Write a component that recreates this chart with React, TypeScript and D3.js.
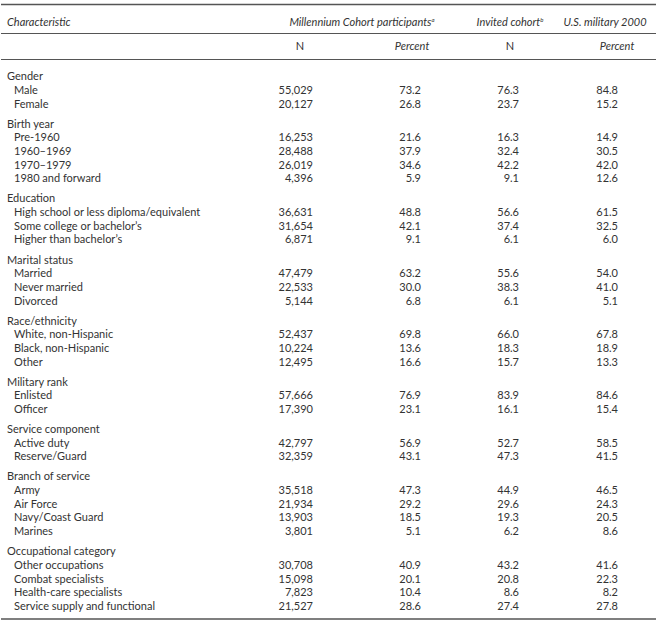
import * as d3 from "d3";

// table content
const groups = [
  "Gender",
  "Birth year",
  "Education",
  "Marital status",
  "Race/ethnicity",
  "Military rank",
  "Service component",
  "Branch of service",
  "Occupational category",
];

const itemLabels = [
  ["Male", "Female"],
  ["Pre-1960", "1960–1969", "1970–1979", "1980 and forward"],
  ["High school or less diploma/equivalent", "Some college or bachelor’s", "Higher than bachelor’s"],
  ["Married", "Never married", "Divorced"],
  ["White, non-Hispanic", "Black, non-Hispanic", "Other"],
  ["Enlisted", "Officer"],
  ["Active duty", "Reserve/Guard"],
  ["Army", "Air Force", "Navy/Coast Guard", "Marines"],
  ["Other occupations", "Combat specialists", "Health-care specialists", "Service supply and functional"],
];

const participantsN = [
  [55029, 20127],
  [16253, 28488, 26019, 4396],
  [36631, 31654, 6871],
  [47479, 22533, 5144],
  [52437, 10224, 12495],
  [57666, 17390],
  [42797, 32359],
  [35518, 21934, 13903, 3801],
  [30708, 15098, 7823, 21527],
];

const participantsPct = [
  [73.2, 26.8],
  [21.6, 37.9, 34.6, 5.9],
  [48.8, 42.1, 9.1],
  [63.2, 30.0, 6.8],
  [69.8, 13.6, 16.6],
  [76.9, 23.1],
  [56.9, 43.1],
  [47.3, 29.2, 18.5, 5.1],
  [40.9, 20.1, 10.4, 28.6],
];

const invitedPct = [
  [76.3, 23.7],
  [16.3, 32.4, 42.2, 9.1],
  [56.6, 37.4, 6.1],
  [55.6, 38.3, 6.1],
  [66.0, 18.3, 15.7],
  [83.9, 16.1],
  [52.7, 47.3],
  [44.9, 29.6, 19.3, 6.2],
  [43.2, 20.8, 8.6, 27.4],
];

const militaryPct = [
  [84.8, 15.2],
  [14.9, 30.5, 42.0, 12.6],
  [61.5, 32.5, 6.0],
  [54.0, 41.0, 5.1],
  [67.8, 18.9, 13.3],
  [84.6, 15.4],
  [58.5, 41.5],
  [46.5, 24.3, 20.5, 8.6],
  [41.6, 22.3, 8.2, 27.8],
];

const W = 665;
const H = 623;
const FONT = "Lato, 'Open Sans', sans-serif";
const TEXT = "#333";
const RULE = "#555";
const GAP = 0.47; // extra space before each group, in rows

const fmtN = d3.format(",");
const fmtPct = d3.format(".1f");

type Row = { pos: number; label: string; header: boolean; vals?: string[] };

// build rows with a running position
const rows: Row[] = [];
let p = 0;
groups.forEach((g, gi) => {
  if (gi > 0) p += GAP;
  rows.push({ pos: p, label: g, header: true });
  p += 1;
  itemLabels[gi].forEach((lab, i) => {
    rows.push({
      pos: p,
      label: lab,
      header: false,
      vals: [
        fmtN(participantsN[gi][i]),
        fmtPct(participantsPct[gi][i]),
        fmtPct(invitedPct[gi][i]),
        fmtPct(militaryPct[gi][i]),
      ],
    });
    p += 1;
  });
});
const lastPos = rows[rows.length - 1].pos;

const y = d3.scaleLinear().domain([0, lastPos]).range([76.5, 606]);
// right edges of the four number columns
const colRight = [313, 421, 519, 618];

export default function App() {
  return (
    <svg width={W} height={H} style={{ position: "absolute", left: 0, top: 0 }}>
      <rect width={W} height={H} fill="#fff" />
      <g fontFamily={FONT} fontSize={11} fill={TEXT}>
        {/* rules */}
        {[4.5, 33.5, 59.5, 619].map((ry) => (
          <line key={ry} x1={1} x2={656} y1={ry} y2={ry} stroke={RULE} strokeWidth={ry === 4.5 || ry === 619 ? 1.6 : 1.2} />
        ))}

        {/* header */}
        <g fontStyle="italic">
          <text x={7} y={22.5} dy="0.35em">Characteristic</text>
          <text x={362} y={22.5} dy="0.35em" textAnchor="middle">
            Millennium Cohort participants
            <tspan fontSize={6} dy="-4">a</tspan>
          </text>
          <text x={510} y={22.5} dy="0.35em" textAnchor="middle">
            Invited cohort
            <tspan fontSize={6} dy="-4">b</tspan>
          </text>
          <text x={605} y={22.5} dy="0.35em" textAnchor="middle">U.S. military 2000</text>
        </g>
        <text x={300} y={46} dy="0.35em" textAnchor="middle">N</text>
        <text x={412} y={46} dy="0.35em" textAnchor="middle" fontStyle="italic">Percent</text>
        <text x={510} y={46} dy="0.35em" textAnchor="middle">N</text>
        <text x={617} y={46} dy="0.35em" textAnchor="middle" fontStyle="italic">Percent</text>

        {/* body */}
        {rows.map((r, i) => (
          <g key={i} transform={`translate(0,${y(r.pos)})`}>
            <text x={r.header ? 7 : 14} dy="0.35em">{r.label}</text>
            {r.vals &&
              r.vals.map((v, j) => (
                <text key={j} x={colRight[j]} dy="0.35em" textAnchor="end">{v}</text>
              ))}
          </g>
        ))}
      </g>
    </svg>
  );
}
